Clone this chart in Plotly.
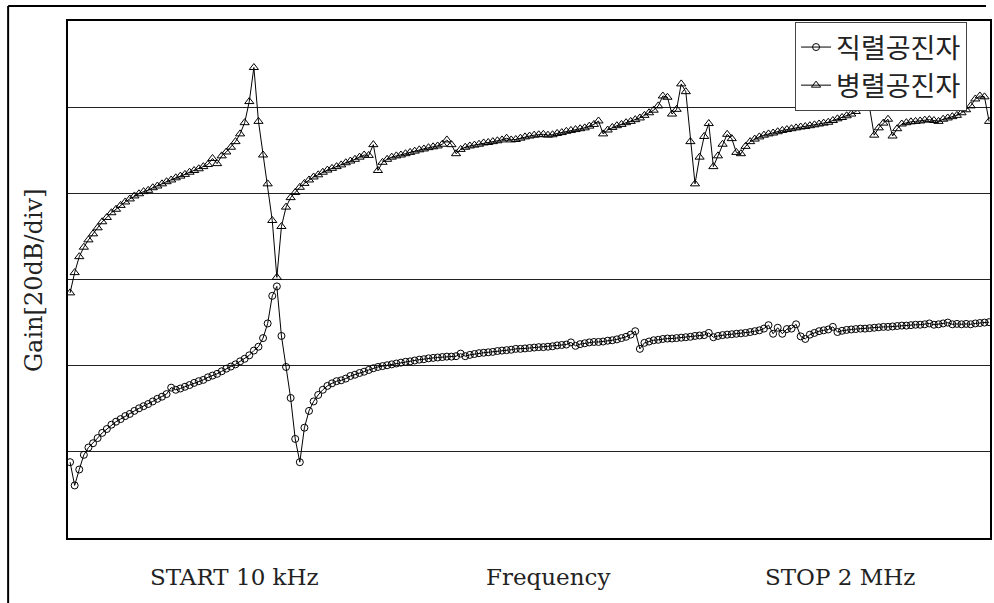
import plotly.graph_objects as go

# Sweep point index (10 kHz .. 2 MHz, 201 points)
sweep_point = list(range(201))

# 직렬공진자 (series resonator) gain, dB
series_db = [
    -102.4, -107.8, -104.1, -100.7, -99.0, -98.0, -96.8, -95.6, -94.7, -93.7,
    -93.0, -92.4, -91.7, -91.2, -90.5, -89.9, -89.4, -88.9, -88.3, -87.7,
    -87.2, -86.6, -85.1, -85.6, -85.3, -84.9, -84.5, -84.0, -83.6, -83.3,
    -82.7, -82.3, -81.9, -81.3, -80.7, -80.2, -79.7, -79.0, -78.4, -77.6,
    -76.5, -75.6, -73.6, -70.2, -63.8, -61.6, -73.1, -80.3, -87.5, -97.0,
    -102.4, -94.4, -90.5, -88.3, -86.8, -85.6, -84.7, -84.1, -83.6, -83.4,
    -83.0, -82.4, -82.1, -81.7, -81.4, -81.0, -80.6, -80.3, -80.1, -79.9,
    -79.7, -79.5, -79.3, -79.1, -79.0, -78.8, -78.6, -78.5, -78.3, -78.2,
    -78.1, -78.0, -77.9, -77.9, -77.8, -77.2, -77.8, -77.5, -77.3, -77.1,
    -77.0, -76.9, -76.8, -76.6, -76.5, -76.4, -76.3, -76.1, -76.1, -76.0,
    -75.9, -75.8, -75.7, -75.7, -75.6, -75.5, -75.3, -75.2, -75.1, -74.6,
    -75.4, -75.0, -74.8, -74.6, -74.5, -74.5, -74.4, -74.2, -74.1, -73.9,
    -73.6, -73.3, -72.8, -72.0, -76.1, -74.7, -74.4, -74.1, -74.0, -73.8,
    -73.7, -73.7, -73.6, -73.5, -73.4, -73.3, -73.1, -73.0, -72.9, -72.4,
    -73.4, -73.1, -72.9, -72.8, -72.7, -72.6, -72.5, -72.4, -72.2, -72.0,
    -71.8, -71.4, -70.6, -72.6, -71.2, -72.6, -71.5, -71.4, -70.4, -73.2,
    -73.8, -72.8, -72.4, -72.0, -71.8, -71.6, -71.0, -72.2, -71.9, -71.7,
    -71.6, -71.5, -71.4, -71.4, -71.3, -71.2, -71.1, -71.0, -71.0, -70.9,
    -70.8, -70.7, -70.7, -70.6, -70.5, -70.5, -70.4, -70.2, -70.5, -70.4,
    -70.2, -70.0, -70.4, -70.3, -70.4, -70.3, -70.4, -70.2, -70.1, -70.0,
    -69.9,
]

# 병렬공진자 (parallel resonator) gain, dB
parallel_db = [
    -63.1, -58.4, -54.7, -52.5, -50.8, -49.4, -48.0, -46.6, -45.6, -44.5,
    -43.7, -42.8, -42.0, -41.3, -40.6, -40.1, -39.6, -39.3, -38.7, -38.3,
    -37.8, -37.3, -36.9, -36.4, -36.0, -35.6, -35.1, -34.7, -34.3, -33.8,
    -33.3, -31.9, -33.1, -31.3, -30.4, -29.3, -28.0, -26.2, -23.6, -18.7,
    -10.8, -23.3, -31.1, -37.8, -46.3, -59.5, -47.7, -43.2, -41.0, -39.8,
    -38.6, -37.7, -36.9, -36.2, -35.7, -35.1, -34.6, -34.2, -33.8, -33.4,
    -32.9, -32.5, -32.1, -31.6, -31.1, -31.2, -28.7, -34.7, -32.8, -32.1,
    -31.6, -31.3, -31.1, -30.8, -30.5, -30.2, -29.9, -29.7, -29.4, -29.2,
    -29.0, -28.6, -27.6, -28.7, -30.8, -29.8, -29.3, -29.0, -28.8, -28.6,
    -28.3, -28.2, -28.0, -27.8, -27.6, -27.2, -27.6, -27.5, -27.2, -26.9,
    -26.7, -26.5, -26.4, -26.3, -26.5, -26.4, -26.1, -25.9, -25.6, -25.4,
    -25.2, -25.0, -24.8, -24.4, -24.0, -23.2, -26.2, -25.3, -24.7, -24.3,
    -24.0, -23.6, -23.3, -22.9, -22.5, -21.9, -21.3, -20.7, -19.7, -17.4,
    -17.7, -21.6, -20.5, -14.6, -16.4, -28.0, -37.8, -31.6, -26.8, -23.8,
    -33.8, -31.3, -28.6, -26.3, -27.3, -30.5, -30.8, -29.1, -28.0, -27.4,
    -26.9, -26.5, -26.2, -26.0, -25.7, -25.4, -25.2, -25.0, -24.8, -24.6,
    -24.5, -24.3, -24.1, -23.9, -23.7, -23.5, -23.1, -22.7, -22.4, -22.0,
    -21.6, -21.0, -20.2, -19.1, -20.2, -26.5, -24.8, -23.7, -22.8, -26.7,
    -25.0, -23.9, -23.6, -23.4, -23.3, -23.2, -23.0, -22.9, -23.1, -23.3,
    -22.8, -22.5, -22.2, -21.9, -21.3, -20.6, -19.7, -18.1, -17.4, -17.6,
    -23.3,
]

series_names = ["직렬공진자", "병렬공진자"]
x_labels = ["START 10 kHz", "Frequency", "STOP 2 MHz"]
y_title = "Gain[20dB/div]"

SERIF = "DejaVu Serif, Liberation Serif, serif"
KR = "Noto Sans CJK KR, sans-serif"

fig = go.Figure()
fig.add_trace(go.Scatter(
    x=sweep_point, y=series_db, name=series_names[0], mode="lines+markers",
    line=dict(color="black", width=1),
    marker=dict(symbol="circle-open", size=7, color="black", line=dict(width=1)),
))
fig.add_trace(go.Scatter(
    x=sweep_point, y=parallel_db, name=series_names[1], mode="lines+markers",
    line=dict(color="black", width=1),
    marker=dict(symbol="triangle-up-open", size=8, color="black", line=dict(width=1)),
))

W, H = 994, 603
ml, mr, mt, mb = 68, 2, 21, 65
pw, ph = W - ml - mr, H - mt - mb

def px(x):
    return (x - ml) / pw

def py(y):
    return (H - mb - y) / ph

fig.update_layout(
    width=W, height=H,
    margin=dict(l=ml, r=mr, t=mt, b=mb, pad=0),
    paper_bgcolor="white", plot_bgcolor="white",
    showlegend=True,
    legend=dict(
        x=px(969), xanchor="right", y=py(22), yanchor="top",
        bgcolor="white", bordercolor="#444", borderwidth=1,
        font=dict(family=KR, size=27, color="#222"),
        itemwidth=30, tracegroupgap=0,
    ),
    xaxis=dict(
        range=[-0.45, 200.2], showgrid=False, zeroline=False,
        showticklabels=False, ticks="",
        showline=True, mirror=True, linecolor="black", linewidth=2,
    ),
    yaxis=dict(
        range=[-120, 0], dtick=20, tick0=0, showgrid=True,
        gridcolor="#222", gridwidth=1, zeroline=False,
        showticklabels=False, ticks="",
        showline=True, mirror=True, linecolor="black", linewidth=2,
    ),
)

# outer frame (left and top edges)
fig.add_shape(type="line", xref="paper", yref="paper",
              x0=px(8), x1=px(8), y0=py(6), y1=py(603),
              line=dict(color="black", width=2))
fig.add_shape(type="line", xref="paper", yref="paper",
              x0=px(8), x1=px(988), y0=py(6), y1=py(6),
              line=dict(color="black", width=2))

for label, xc in zip(x_labels, [235, 549, 842]):
    fig.add_annotation(text=label, xref="paper", yref="paper",
                       x=px(xc), y=py(577), xanchor="center", yanchor="middle",
                       showarrow=False, font=dict(family=SERIF, size=23, color="#222"))

fig.add_annotation(text=y_title, xref="paper", yref="paper",
                   x=px(34), y=py(280), xanchor="center", yanchor="middle",
                   textangle=-90, showarrow=False,
                   font=dict(family=SERIF, size=24, color="#222"))

fig.write_html("out.html")
